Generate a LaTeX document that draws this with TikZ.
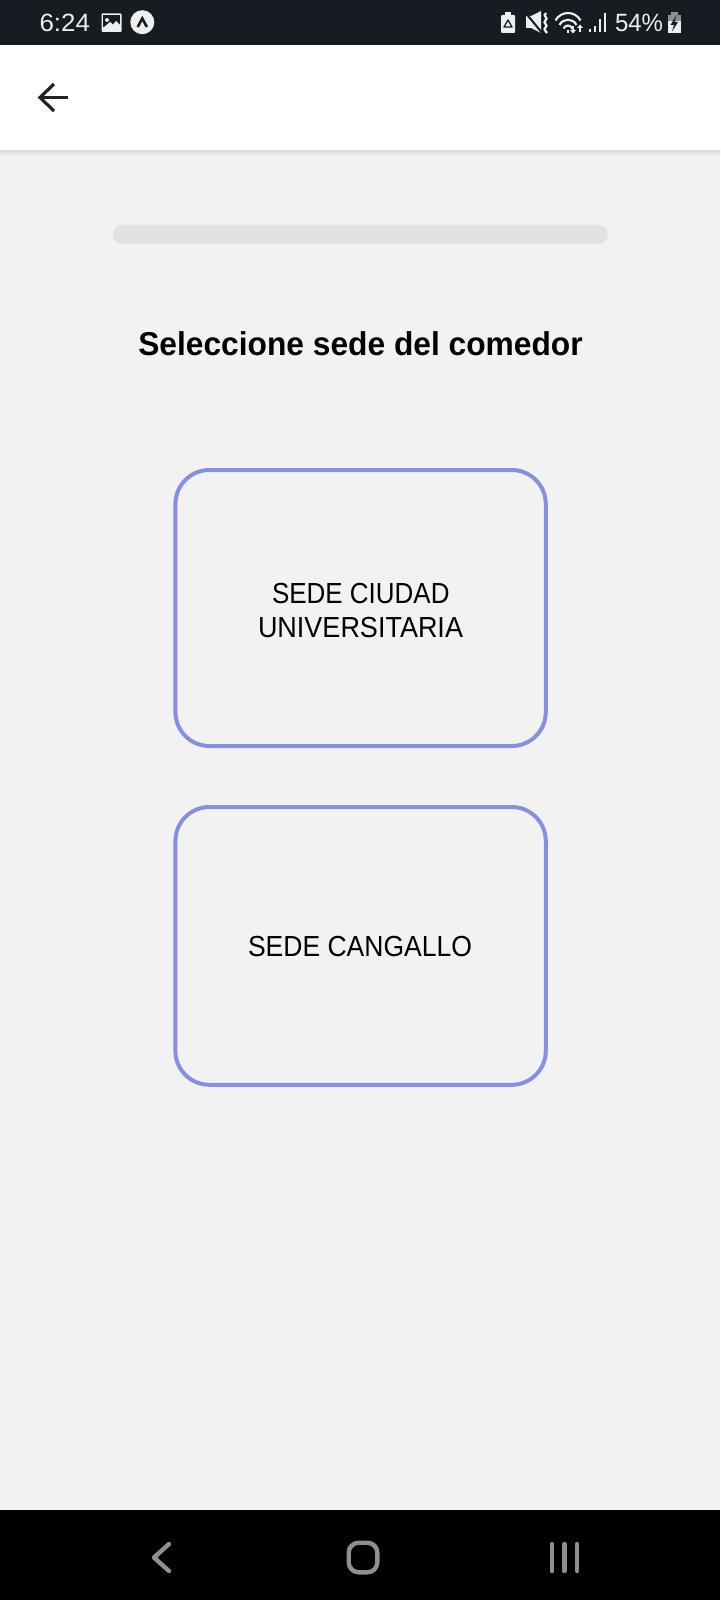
\documentclass[tikz,border=0pt]{standalone}
\usepackage{graphicx}
\usepackage{fontspec}
\setmainfont{Liberation Sans}
\definecolor{pagebg}{HTML}{F2F2F3}
\definecolor{statusbg}{HTML}{171B22}
\definecolor{statusfg}{HTML}{EDEEEE}
\definecolor{barbg}{HTML}{E2E2E2}
\definecolor{btnline}{HTML}{8690E2}
\definecolor{navicon}{HTML}{8F8F8F}
\definecolor{arrowink}{HTML}{222222}
\tikzset{
  x=1pt,y=-1pt,
  txt/.style={inner sep=0pt,outer sep=0pt,anchor=base},
  sede/.style={txt,font=\fontsize{29}{29}\selectfont,text=black},
  stat/.style={txt,font=\fontsize{25}{25}\selectfont,text=statusfg},
  choice/.style={draw=btnline,line width=4pt,rounded corners=34pt,fill=pagebg},
  navstroke/.style={draw=navicon,line width=4.4pt,line cap=round,line join=round},
}
\begin{document}
\begin{tikzpicture}
\useasboundingbox (0,0) rectangle (720,1600);
% backgrounds
\fill[pagebg] (0,0) rectangle (720,1600);
\fill[white] (0,45) rectangle (720,150);
\shade[top color=black!14,bottom color=pagebg,draw=none] (0,150) rectangle (720,157);
\fill[statusbg] (0,0) rectangle (720,45);
\fill[black] (0,1510) rectangle (720,1600);
% status bar left
\node[stat] (time) at (64.8,32) {\resizebox{50.5pt}{\height}{6:24}};
\fill[statusfg,rounded corners=1pt] (101.5,13.5) rectangle (121.5,32);
\fill[statusbg] (103,15) rectangle (120,27.5);
\fill[statusfg] (103,28) -- (110,22) -- (113,24.5) -- (116,21) -- (120,25) -- (120,30.5) -- (103,30.5) -- cycle;
\fill[statusfg] (107,20) circle (2pt);
\fill[statusfg] (142.3,22.2) circle (12pt);
\draw[statusbg,line width=2.6pt] (137.7,27) -- (142.3,18.5) -- (146.9,27);
% status bar right: battery saver
\fill[statusfg,rounded corners=1pt] (501,15) rectangle (515,33);
\fill[statusfg] (505,12.5) rectangle (511,15);
\draw[statusbg,line width=1.3pt,line join=round] (508,20) -- (512,27) -- (504,27) -- cycle;
% mute
\fill[statusfg] (526,16) -- (531,16) -- (541,11) -- (541,33) -- (531,28) -- (526,28) -- cycle;
\draw[statusbg,line width=2pt] (524,11) -- (543,34);
\draw[statusfg,line width=2.3pt] (546,13) .. controls (542,16) and (549,18) .. (545.5,20.5)
  .. controls (542,23) and (549,25) .. (545.5,27.5) .. controls (543,29.5) and (546,31) .. (547,33);
% wifi
\draw[statusfg,line width=2.1pt] (555.5,20.5) .. controls (561,10.5) and (575,10.5) .. (580.5,20.5);
\draw[statusfg,line width=2.1pt] (559.5,25) .. controls (563,18) and (573,18) .. (576.5,25);
\draw[statusfg,line width=2.1pt] (563.5,28.5) .. controls (566,24.5) and (570,24.5) .. (572.5,28.5);
\fill[statusfg] (566.5,30) rectangle (569,33);
\draw[statusfg,line width=1.4pt] (573,26) -- (573,32);
\fill[statusfg] (570,30) -- (576,30) -- (573,33.5) -- cycle;
\draw[statusfg,line width=1.4pt] (580,26) -- (580,32);
\fill[statusfg] (577,28) -- (583,28) -- (580,24.5) -- cycle;
% signal
\fill[statusfg] (588.5,29) rectangle (590.5,32);
\fill[statusfg] (594,26) rectangle (596.2,32);
\fill[statusfg] (599,19) rectangle (601.2,32);
\fill[statusfg] (603.5,13) rectangle (605.7,32);
\node[stat] (pct) at (639,32) {\resizebox{48pt}{\height}{54\%}};
% battery
\fill[statusfg!55!statusbg] (670.5,12.5) rectangle (677.5,15);
\fill[statusfg!55!statusbg] (667.5,15) rectangle (681,21);
\fill[statusfg] (667.5,21) rectangle (681,33);
\fill[statusbg] (676.5,15) -- (670.5,25) -- (674,25) -- (672,31.5) -- (678,22) -- (674.5,22) -- cycle;
% back arrow
\draw[arrowink,line width=3.2pt,line join=miter] (54,84) -- (40,97.5) -- (54,111);
\draw[arrowink,line width=3.2pt] (40,97.5) -- (68,97.5);
% progress track
\fill[barbg,rounded corners=9.6pt] (112.7,224.9) rectangle (608,244);
% title
\node[txt,font=\fontsize{33}{33}\selectfont\bfseries,text=black] (title) at (360.5,355)
  {\resizebox{444.5pt}{\height}{Seleccione sede del comedor}};
% buttons
\draw[choice] (175.4,470) rectangle (545.8,746);
\node[sede] (ciudad1) at (360.8,603.2) {\resizebox{177.5pt}{\height}{SEDE CIUDAD}};
\node[sede] (ciudad2) at (360.5,637) {\resizebox{205pt}{\height}{UNIVERSITARIA}};
\draw[choice] (175.4,807) rectangle (545.8,1084.8);
\node[sede] (cangallo) at (360,956.9) {\resizebox{224pt}{\height}{SEDE CANGALLO}};
% nav bar
\draw[navstroke] (169,1544) -- (154,1557.5) -- (169,1571);
\draw[navstroke,rounded corners=10pt] (348.7,1542.7) rectangle (377.3,1572.3);
\draw[navstroke] (552,1544) -- (552,1571);
\draw[navstroke] (564.5,1544) -- (564.5,1571);
\draw[navstroke] (577,1544) -- (577,1571);
\end{tikzpicture}
\end{document}
